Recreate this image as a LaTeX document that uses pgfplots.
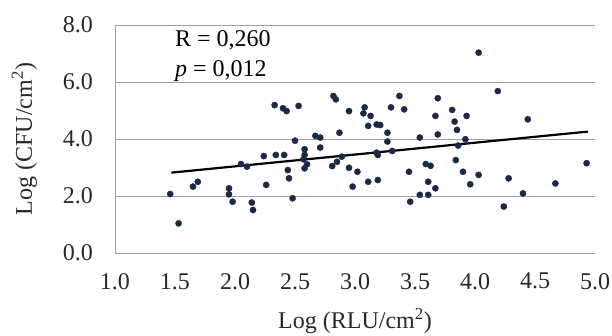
\documentclass[border=0pt]{standalone}
\usepackage{pgfplots}
\pgfplotsset{compat=1.18}
\usepackage{fontspec}
\setmainfont{Liberation Serif}
\definecolor{dotc}{RGB}{25,42,70}
\definecolor{gridc}{RGB}{160,160,160}
\definecolor{tickc}{RGB}{40,40,40}
\begin{document}
\begin{tikzpicture}[font=\fontsize{24}{27}\selectfont]
\path[use as bounding box] (-115pt,-83pt) rectangle (497pt,253pt);
\begin{axis}[
  scale only axis, width=480pt, height=228pt,
  xmin=1, xmax=5, ymin=0, ymax=8,
  xtick={1,1.5,2,2.5,3,3.5,4,4.5,5},
  ytick={0,2,4,6,8},
  axis x line*=bottom, axis y line*=left,
  axis line style={gridc, line width=0.9pt, -},
  ymajorgrids, grid style={gridc, line width=0.9pt},
  major tick length=0pt,
  /pgf/number format/.cd, fixed, fixed zerofill, precision=1, assume math mode=true,
  /pgfplots/.cd,
  tick label style={font=\fontsize{24}{27}\selectfont, text=tickc, inner sep=0pt},
  xticklabel style={yshift=-20pt},
  yticklabel style={xshift=-22pt},
  xlabel={Log (RLU/cm\textsuperscript{2})},
  ylabel={Log (CFU/cm\textsuperscript{2})},
  label style={font=\fontsize{24}{27}\selectfont, text=tickc},
  xlabel style={at={(axis description cs:0.5,-0.298)}, anchor=center},
  ylabel style={at={(axis description cs:-0.1885,0.5)}, anchor=center},
  clip=false,
]
\addplot[only marks, mark=*, mark size=3.1pt, draw=dotc, fill=dotc] coordinates {
(1.46,2.07) (1.53,1.04) (1.65,2.33) (1.69,2.50) (1.95,2.27) (1.95,2.06)
(1.98,1.80) (2.14,1.77) (2.15,1.51) (2.05,3.12) (2.10,3.03) (2.26,2.39)
(2.24,3.40) (2.34,3.44) (2.41,3.44) (2.33,5.19) (2.40,5.08) (2.43,4.98)
(2.53,5.16) (2.44,2.91) (2.45,2.62) (2.48,1.92) (2.50,3.94) (2.58,3.64)
(2.58,3.44) (2.60,3.11) (2.58,2.97) (2.57,3.29) (2.67,4.11) (2.71,4.05)
(2.71,3.70) (2.82,5.51) (2.84,5.39) (2.87,4.22) (2.81,3.05) (2.85,3.20)
(2.89,3.38) (2.95,2.99) (3.02,2.85) (2.98,2.33) (2.95,4.98) (3.08,5.11)
(3.07,4.90) (3.13,4.81) (3.11,4.46) (3.18,4.51) (3.21,4.49) (3.11,2.50)
(3.19,2.56) (3.18,3.52) (3.19,3.44) (3.27,4.22) (3.27,3.91) (3.31,3.58)
(3.30,5.11) (3.37,5.51) (3.41,5.04) (3.45,2.85) (3.46,1.80) (3.54,2.04)
(3.61,2.04) (3.54,4.05) (3.59,3.12) (3.63,3.06) (3.61,2.50) (3.67,2.27)
(3.69,5.43) (3.67,4.81) (3.69,4.16) (3.81,5.02) (3.83,4.61) (3.85,4.32)
(3.84,3.26) (3.90,2.85) (3.93,4.81) (3.92,3.99) (3.96,2.41) (3.86,3.77)
(4.03,2.74) (4.03,7.03) (4.19,5.68) (4.24,1.63) (4.28,2.62) (4.40,2.09)
(4.44,4.69) (4.67,2.44) (4.93,3.15)
};
\addplot[black, line width=2.2pt] coordinates {(1.47,2.82) (4.94,4.26)};
\node[anchor=base west, inner sep=0pt] at (axis cs:1.5,7.23) {R = 0,260};
\node[anchor=base west, inner sep=0pt] at (axis cs:1.5,6.18) {\textit{p} = 0,012};
\end{axis}
\end{tikzpicture}
\end{document}
